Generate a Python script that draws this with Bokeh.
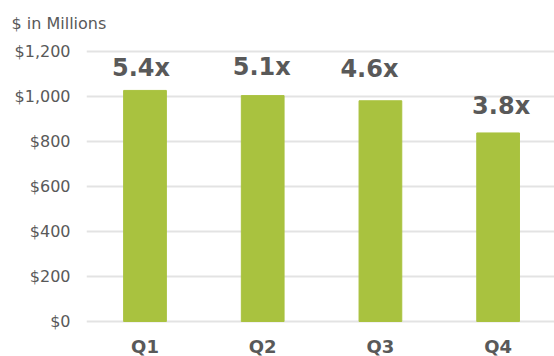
from bokeh.plotting import figure
from bokeh.models import Range1d, FixedTicker, ColumnDataSource
from bokeh.embed import file_html
from bokeh.resources import INLINE
from bokeh.core.properties import value

quarters = ["Q1", "Q2", "Q3", "Q4"]
revenue = [1027, 1004, 981, 838]
multiples = ["5.4x", "5.1x", "4.6x", "3.8x"]
y_ticks = [0, 200, 400, 600, 800, 1000, 1200]
y_tick_labels = ["$0", "$200", "$400", "$600", "$800", "$1,000", "$1,200"]

# label pixel offsets (style only)
label_dx = [-4, -1, -11, 3]
label_dy = [-22, -29, -32, -27]

FONT = "DejaVu Sans"
GRAY = "#595959"

idx = list(range(len(quarters)))
src = ColumnDataSource(dict(x=idx, top=revenue, lab=multiples, q=quarters,
                            base=[0] * len(idx), dx=label_dx, dy=label_dy))

p = figure(width=554, height=356, output_backend="svg", toolbar_location=None,
           x_range=Range1d(-0.497, 3.479), y_range=Range1d(-155.6, 1248.9))
p.outline_line_color = None
p.background_fill_color = "white"
p.border_fill_color = "white"
p.min_border_left = 86
p.min_border_right = 0
p.min_border_top = 40
p.min_border_bottom = 0

p.title.text = "$ in Millions"
p.title.align = "left"
p.title.offset = -75
p.title.standoff = 15
p.title.text_font = FONT
p.title.text_font_size = "16px"
p.title.text_font_style = "normal"
p.title.text_color = GRAY

p.vbar(x="x", top="top", width=0.363, bottom=0, source=src, color="#A9C23F")
p.text(x="x", y="top", text="lab", source=src, x_offset="dx", y_offset="dy",
       text_align="center", text_baseline="middle", text_font=value(FONT),
       text_font_size="24px", text_font_style="bold", text_color=GRAY)
# category labels under the bars
p.text(x="x", y="base", text="q", source=src, y_offset=25,
       text_align="center", text_baseline="middle", text_font=value(FONT),
       text_font_size="18px", text_font_style="bold", text_color=GRAY)

p.xgrid.grid_line_color = None
p.ygrid.grid_line_color = "#E3E3E3"
p.ygrid.grid_line_width = 2
p.ygrid.ticker = FixedTicker(ticks=y_ticks)

p.yaxis.ticker = FixedTicker(ticks=y_ticks)
p.yaxis.major_label_overrides = {t: l for t, l in zip(y_ticks, y_tick_labels)}
p.yaxis.axis_line_color = None
p.yaxis.major_tick_line_color = None
p.yaxis.minor_tick_line_color = None
p.yaxis.major_tick_out = 0
p.yaxis.major_tick_in = 0
p.yaxis.major_label_standoff = 16
p.yaxis.major_label_text_font = FONT
p.yaxis.major_label_text_font_size = "16px"
p.yaxis.major_label_text_color = GRAY

p.xaxis.visible = False

open("out.html", "w").write(file_html(p, INLINE))
